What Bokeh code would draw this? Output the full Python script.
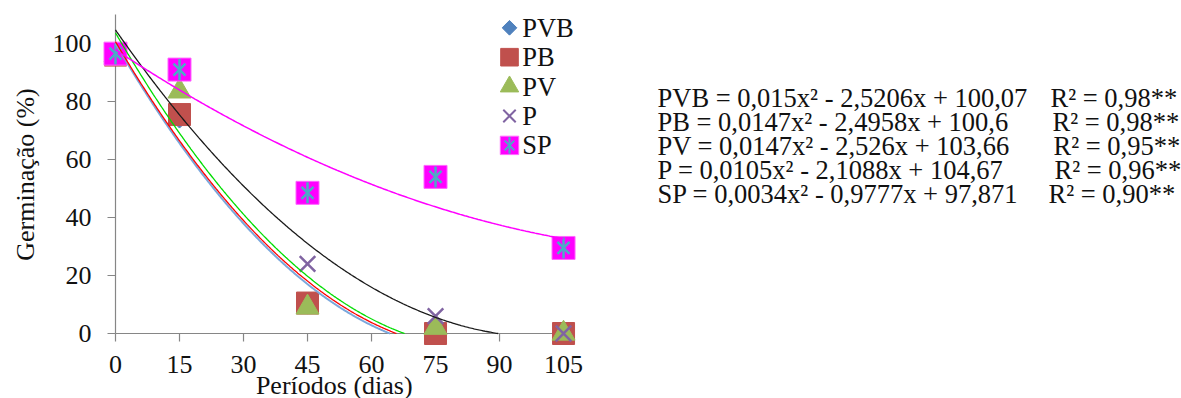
import numpy as np
from bokeh.plotting import figure
from bokeh.models import Range1d
from bokeh.core.properties import value
from bokeh.embed import file_html
from bokeh.resources import INLINE

# ---------------- data ----------------
series = ["PVB", "PB", "PV", "P", "SP"]
periods = [0, 15, 45, 75, 105]
pvb = [96, 74, 10, 0, 0]
pb = [96, 75.5, 10.5, 0, 0]
pv = [96, 83.5, 9, 2, 0]
p_vals = [96, 90, 24, 6, 0]
sp = [96.5, 91, 48.5, 54, 29.5]
values = [pvb, pb, pv, p_vals, sp]

# regression coefficients printed on the chart (y = a x^2 + b x + c)
coef_a = [0.015, 0.0147, 0.0147, 0.0105, 0.0034]
coef_b = [-2.5206, -2.4958, -2.526, -2.1088, -0.9777]
coef_c = [100.07, 100.6, 103.66, 104.67, 97.871]
r2 = ["0,98", "0,98", "0,95", "0,96", "0,90"]

x_ticks = [0, 15, 30, 45, 60, 75, 90, 105]
y_ticks = [0, 20, 40, 60, 80, 100]
x_title = "Períodos  (dias)"
y_title = "Germinação (%)"

# ---------------- layout ----------------
W, H = 1181, 398
X0_PX, XS = 115.0, 4.267     # pixel of x=0, pixels per unit
Y0_PX, YS = 333.0, 2.9       # pixel of y=0, pixels per unit
Y_AXIS_TOP = 110
TICK = 8
FONT = value("Liberation Serif, Times New Roman, DejaVu Serif, serif")
FS = "26px"
FS_LEG = "26.5px"
FS_EQ = "26.5px"
TXT = "#111111"
AXIS = "#868686"

p = figure(width=W, height=H,
           x_range=Range1d(-X0_PX / XS, (W - X0_PX) / XS),
           y_range=Range1d(-(H - Y0_PX) / YS, Y0_PX / YS),
           x_axis_type=None, y_axis_type=None,
           toolbar_location=None, output_backend="svg",
           min_border=0, outline_line_color=None)
p.extra_x_ranges = {"px": Range1d(0, W)}
p.extra_y_ranges = {"px": Range1d(H, 0)}
p.grid.visible = False
p.background_fill_color = "white"
p.border_fill_color = "white"

# ---------------- axes ----------------
p.segment(x0=[0, 0], y0=[0, 0], x1=[periods[-1], 0], y1=[0, Y_AXIS_TOP],
          line_color=AXIS, line_width=1.2)
p.segment(x0=x_ticks, y0=[0] * len(x_ticks), x1=x_ticks,
          y1=[-TICK / YS] * len(x_ticks), line_color=AXIS, line_width=1.2)
p.segment(x0=[0] * len(y_ticks), y0=y_ticks, x1=[-TICK / XS] * len(y_ticks),
          y1=y_ticks, line_color=AXIS, line_width=1.2)

# (text anchors below give the visual centre of the glyphs)
p.text(x=x_ticks, y=[0] * len(x_ticks), text=[str(t) for t in x_ticks],
       text_font=FONT, text_font_size=FS, text_color=TXT,
       text_align="center", text_baseline="alphabetic", y_offset=31)
p.text(x=[0] * len(y_ticks), y=y_ticks, text=[str(t) for t in y_ticks],
       text_font=FONT, text_font_size=FS, text_color=TXT,
       text_align="right", text_baseline="alphabetic", x_offset=-24, y_offset=0)

p.text(x=[337], y=[384.5], text=[x_title], text_font=FONT, text_font_size=FS,
       text_color=TXT, text_align="center", text_baseline="alphabetic",
       x_range_name="px", y_range_name="px")
p.text(x=[24.5], y=[174], text=[y_title], text_font=FONT, text_font_size=FS,
       text_color=TXT, text_align="center", text_baseline="alphabetic",
       angle=np.pi / 2, x_range_name="px", y_range_name="px")


# ---------------- markers ----------------
def draw_marker(name, xs, ys, scale=1.0, **kw):
    if name == "PVB":
        p.scatter(xs, ys, marker="square", angle=np.pi / 4, size=13 * scale,
                  fill_color="#4F81BD", line_color="#4F81BD", **kw)
    elif name == "PB":
        p.scatter(xs, ys, marker="square", size=22 * scale,
                  fill_color="#C0504D", line_color="#C0504D", **kw)
    elif name == "PV":
        p.scatter(xs, ys, marker="triangle", size=23 * scale,
                  fill_color="#9BBB59", line_color="#9BBB59", **kw)
    elif name == "P":
        p.scatter(xs, ys, marker="x", size=22 * scale,
                  line_color="#8064A2", line_width=2.5 * scale, **kw)
    elif name == "SP":
        p.scatter(xs, ys, marker="square", size=23 * scale,
                  fill_color="#FF00FF", line_color="#FF66FF", **kw)
        p.scatter(xs, ys, marker="x", size=17 * scale,
                  line_color="#4BACC6", line_width=2.5 * scale, **kw)
        p.scatter(xs, ys, marker="dash", angle=np.pi / 2, size=21 * scale,
                  line_color="#4BACC6", line_width=2.5 * scale, **kw)


for name, vals in zip(series, values):
    draw_marker(name, periods, vals)

# ---------------- trend lines ----------------
line_colors = ["#7BA7DC", "#FF0000", "#00DD00", "#1A1A1A", "#FF00FF"]
line_widths = [2.0, 1.3, 1.3, 1.3, 1.5]
for a, b, c, col, lw in zip(coef_a, coef_b, coef_c, line_colors, line_widths):
    x_end = periods[-1]
    disc = b * b - 4 * a * c
    if disc >= 0:
        root = (-b - np.sqrt(disc)) / (2 * a)
        if 0 < root < x_end:
            x_end = root
    xs = np.linspace(0, x_end, 300)
    ys = np.maximum(a * xs ** 2 + b * xs + c, 0)
    p.line(xs, ys, line_color=col, line_width=lw)

# ---------------- legend ----------------
LEG_X, LEG_Y0, LEG_DY = 509, 27.3, 29.4
for i, name in enumerate(series):
    gy = LEG_Y0 + i * LEG_DY
    draw_marker(name, [LEG_X], [gy], scale=0.8, x_range_name="px", y_range_name="px")
    p.text(x=[LEG_X + 12.7], y=[gy], text=[name], text_font=FONT,
           text_font_size=FS_LEG, text_color=TXT, text_align="left",
           text_baseline="alphabetic", x_range_name="px", y_range_name="px")

# ---------------- equations ----------------
EQ_X, EQ_Y0, EQ_DY = 657, 97, 24
R2_X = [1050, 1052, 1053, 1054, 1048]


def fmt(v):
    return str(v).replace(".", ",")


for i, name in enumerate(series):
    eq = f"{name} = {fmt(coef_a[i])}x² - {fmt(abs(coef_b[i]))}x + {fmt(coef_c[i])}"
    y = EQ_Y0 + i * EQ_DY
    p.text(x=[EQ_X], y=[y], text=[eq], text_font=FONT, text_font_size=FS_EQ,
           text_color=TXT, text_align="left", text_baseline="alphabetic",
           x_range_name="px", y_range_name="px")
    p.text(x=[R2_X[i]], y=[y], text=[f"R² = {r2[i]}**"], text_font=FONT,
           text_font_size=FS_EQ, text_color=TXT, text_align="left",
           text_baseline="alphabetic", x_range_name="px", y_range_name="px")

open("out.html", "w").write(file_html(p, INLINE))
